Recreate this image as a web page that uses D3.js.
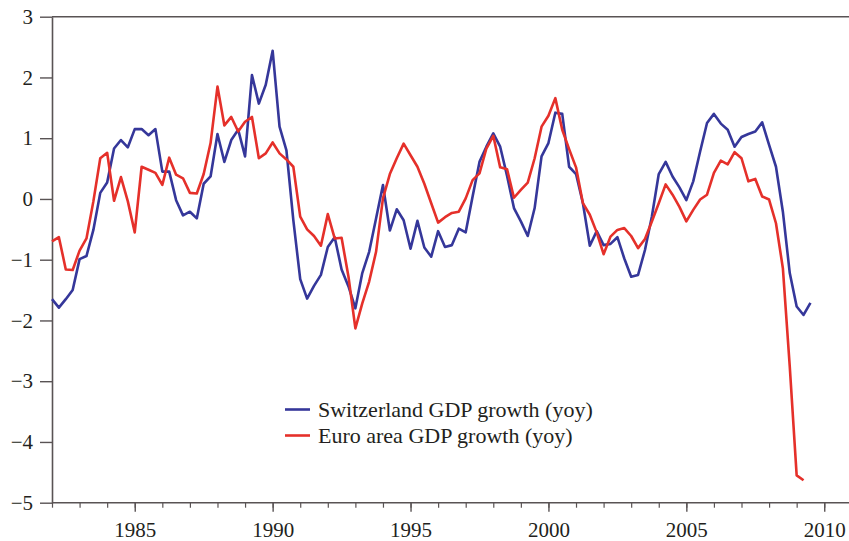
<!DOCTYPE html>
<html>
<head>
<meta charset="utf-8">
<script src="https://cdn.jsdelivr.net/npm/d3@7"></script>
<style>
  html, body { margin: 0; padding: 0; background: #fff; }
  svg { display: block; }
  text { font-family: "Liberation Serif", "DejaVu Serif", serif; fill: #231f20; }
</style>
</head>
<body>
<svg id="chart" width="849" height="541"></svg>
<script>
// ---- data (quarterly, starting 1982 Q1) ----
const startYear = 1982;
const switzerland = [
  -1.65, -1.79, -1.65, -1.50, -0.99, -0.94, -0.51, 0.10, 0.27, 0.83,
  0.97, 0.85, 1.15, 1.15, 1.05, 1.15, 0.45, 0.45, -0.02, -0.27,
  -0.21, -0.32, 0.25, 0.37, 1.07, 0.61, 0.97, 1.14, 0.70, 2.04,
  1.57, 1.88, 2.44, 1.19, 0.80, -0.35, -1.32, -1.64, -1.43, -1.25,
  -0.79, -0.63, -1.16, -1.44, -1.80, -1.22, -0.87, -0.32, 0.23, -0.52,
  -0.17, -0.35, -0.82, -0.36, -0.80, -0.95, -0.53, -0.79, -0.76, -0.49,
  -0.55, 0.04, 0.61, 0.86, 1.08, 0.86, 0.38, -0.15, -0.37, -0.61,
  -0.15, 0.70, 0.92, 1.42, 1.40, 0.53, 0.41, -0.07, -0.77, -0.53,
  -0.76, -0.74, -0.63, -0.98, -1.28, -1.25, -0.84, -0.29, 0.41, 0.61,
  0.37, 0.19, -0.02, 0.29, 0.78, 1.25, 1.40, 1.24, 1.14, 0.86,
  1.02, 1.07, 1.11, 1.26, 0.89, 0.53, -0.21, -1.22, -1.77, -1.91,
  -1.71
];
const euroArea = [
  -0.70, -0.63, -1.16, -1.17, -0.85, -0.65, -0.04, 0.67, 0.76, -0.03,
  0.36, -0.04, -0.55, 0.53, 0.48, 0.43, 0.23, 0.68, 0.40, 0.34,
  0.10, 0.09, 0.41, 0.92, 1.85, 1.21, 1.35, 1.11, 1.27, 1.35,
  0.67, 0.75, 0.93, 0.75, 0.65, 0.53, -0.29, -0.50, -0.61, -0.77,
  -0.25, -0.65, -0.64, -1.28, -2.13, -1.72, -1.36, -0.87, 0.01, 0.41,
  0.67, 0.91, 0.72, 0.53, 0.25, -0.07, -0.39, -0.30, -0.23, -0.21,
  0.01, 0.31, 0.42, 0.83, 1.04, 0.52, 0.49, 0.02, 0.15, 0.27,
  0.67, 1.19, 1.37, 1.66, 1.14, 0.82, 0.52, -0.07, -0.26, -0.55,
  -0.91, -0.62, -0.51, -0.48, -0.61, -0.81, -0.66, -0.37, -0.07, 0.24,
  0.07, -0.13, -0.37, -0.18, -0.01, 0.07, 0.43, 0.63, 0.57, 0.77,
  0.67, 0.29, 0.33, 0.04, -0.01, -0.40, -1.14, -2.76, -4.55, -4.63
];
const seriesNames = ["Switzerland GDP growth (yoy)", "Euro area GDP growth (yoy)"];
const seriesColors = ["#35379a", "#e5302a"];
const yTicks = [-5, -4, -3, -2, -1, 0, 1, 2, 3];
const xMajorTicks = [1985, 1990, 1995, 2000, 2005, 2010];
const xMinorTicks = d3.range(1982, 2012);

// ---- layout ----
const svg = d3.select("#chart");
const plotLeft = 52, plotTop = 16.7, plotBottom = 502.7;
const pxPerYear = 27.58;
const x = d3.scaleLinear().domain([1982, 2011]).range([plotLeft, plotLeft + 29 * pxPerYear]);
const y = d3.scaleLinear().domain([-5, 3]).range([plotBottom, plotTop]);
const axisColor = "#595354";

// top frame line
svg.append("line")
  .attr("x1", plotLeft).attr("x2", 849)
  .attr("y1", y(3)).attr("y2", y(3))
  .attr("stroke", axisColor).attr("stroke-width", 1.6);

// y axis
const yAxis = svg.append("g").attr("transform", `translate(${plotLeft},0)`)
  .call(d3.axisLeft(y).tickValues(yTicks).tickSize(12).tickPadding(7).tickSizeOuter(0));
yAxis.select(".domain").attr("stroke", axisColor).attr("stroke-width", 1.6);
yAxis.selectAll(".tick line").attr("stroke", axisColor).attr("stroke-width", 1.4);
yAxis.selectAll(".tick text").attr("font-size", 21).attr("fill", "#231f20")
  .attr("font-family", "Liberation Serif, serif");

// x axis minor ticks
const xMinor = svg.append("g").attr("transform", `translate(0,${plotBottom})`)
  .call(d3.axisBottom(x).tickValues(xMinorTicks).tickSize(5).tickFormat("").tickSizeOuter(0));
xMinor.select(".domain").remove();
xMinor.selectAll(".tick line").attr("stroke", axisColor).attr("stroke-width", 1.2);

// x axis major
const xAxis = svg.append("g").attr("transform", `translate(0,${plotBottom})`)
  .call(d3.axisBottom(x).tickValues(xMajorTicks).tickSize(9).tickPadding(10)
    .tickFormat(d3.format("d")).tickSizeOuter(0));
xAxis.select(".domain").attr("d", `M${plotLeft},0H849`).attr("stroke", axisColor).attr("stroke-width", 1.6);
xAxis.selectAll(".tick line").attr("stroke", axisColor).attr("stroke-width", 1.4);
xAxis.selectAll(".tick text").attr("font-size", 21).attr("fill", "#231f20")
  .attr("font-family", "Liberation Serif, serif");

// lines
const line = d3.line()
  .x((d, i) => x(startYear + i / 4))
  .y(d => y(d));

[switzerland, euroArea].forEach((vals, k) => {
  svg.append("path")
    .datum(vals)
    .attr("fill", "none")
    .attr("stroke", seriesColors[k])
    .attr("stroke-width", 2.6)
    .attr("stroke-linejoin", "round")
    .attr("d", line);
});

// legend
const legend = svg.append("g");
const legendY = [409.5, 435.5];
seriesNames.forEach((name, k) => {
  legend.append("line")
    .attr("x1", 285).attr("x2", 310)
    .attr("y1", legendY[k]).attr("y2", legendY[k])
    .attr("stroke", seriesColors[k]).attr("stroke-width", 2.6);
  legend.append("text")
    .attr("x", 318).attr("y", legendY[k])
    .attr("dy", "0.35em")
    .attr("font-size", 22)
    .text(name);
});
</script>
</body>
</html>
